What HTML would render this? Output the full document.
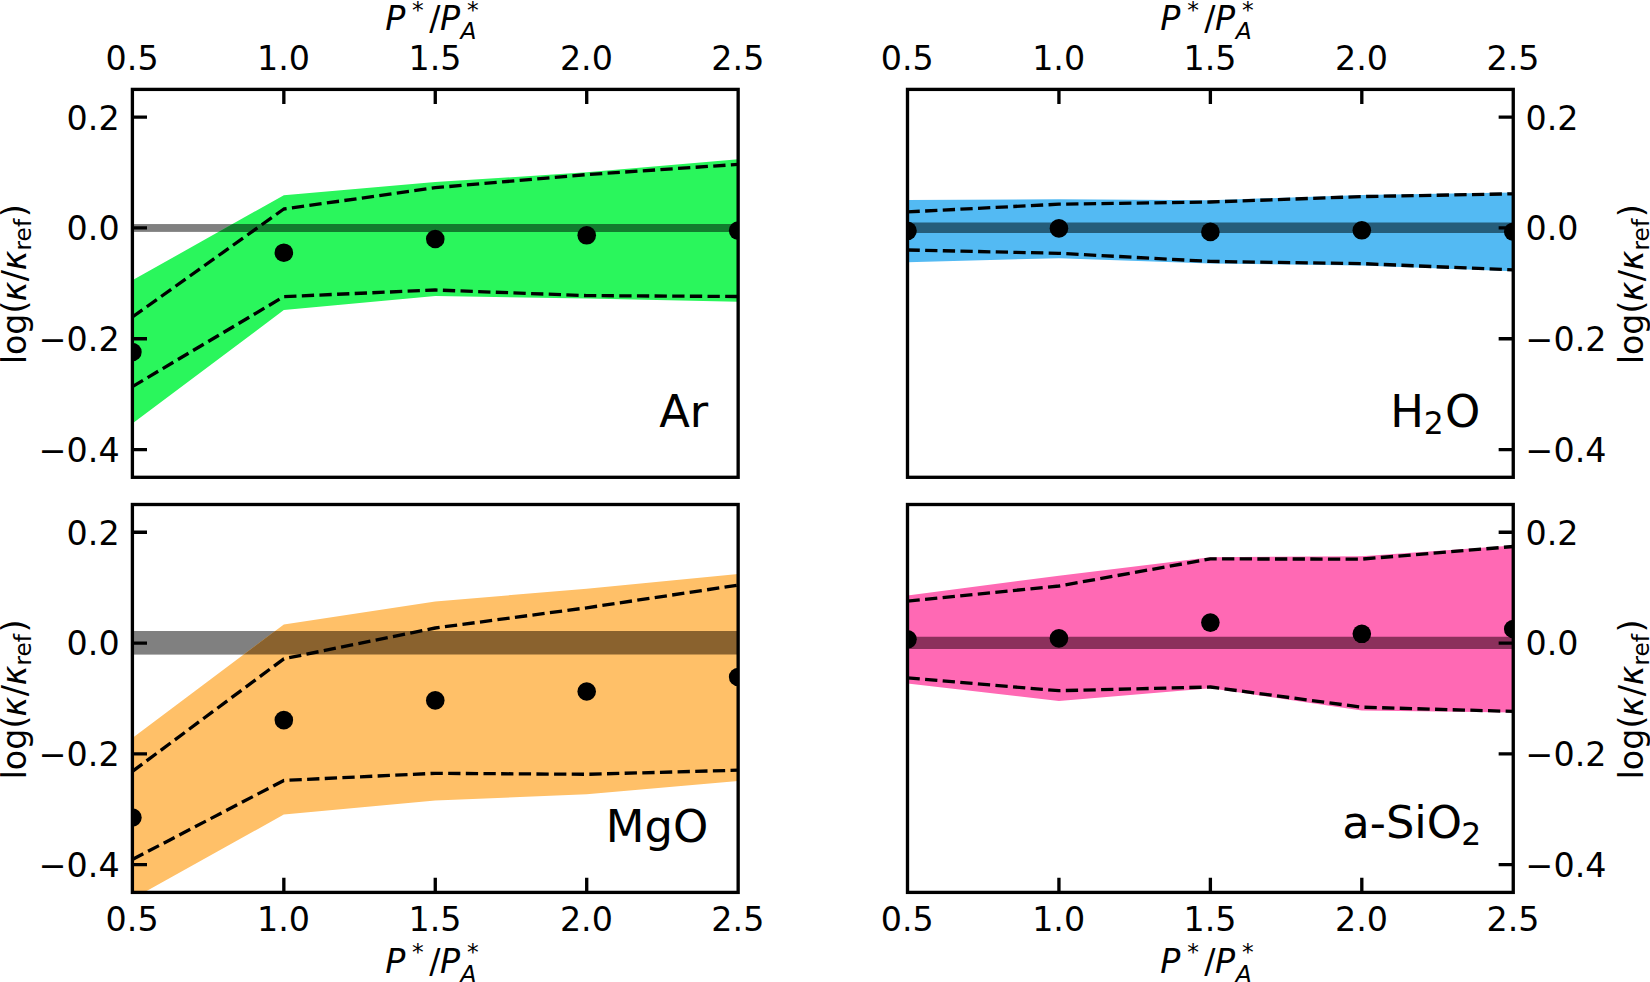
<!DOCTYPE html>
<html lang="en"><head><meta charset="utf-8"><title>log(κ/κref) vs P*/P*A</title>
<style>html,body{margin:0;padding:0;background:#fff}body{width:1650px;height:982px;overflow:hidden}svg{display:block}text{font-family:'DejaVu Sans','Liberation Sans',sans-serif;fill:#000}.it{font-style:oblique}</style></head><body>
<svg width="1650" height="982" viewBox="0 0 1650 982">
<rect width="1650" height="982" fill="#fff"/>
<clipPath id="cA"><rect x="132.4" y="89.4" width="605.75" height="387.9"/></clipPath>
<g clip-path="url(#cA)">
<clipPath id="bA"><rect x="132.4" y="224.05" width="605.75" height="7.85"/></clipPath>
<rect x="132.4" y="224.05" width="605.75" height="7.85" fill="#808080"/>
<polygon fill="#2af65c" points="132.4,280.3 283.84,195.2 435.27,182.1 586.71,172.3 738.15,159.3 738.15,301.8 586.71,298.6 435.27,296.1 283.84,310.1 132.4,423.4"/>
<polygon fill="#127c2e" points="132.4,280.3 283.84,195.2 435.27,182.1 586.71,172.3 738.15,159.3 738.15,301.8 586.71,298.6 435.27,296.1 283.84,310.1 132.4,423.4" clip-path="url(#bA)"/>
<polyline fill="none" stroke="#000" stroke-width="3.33" stroke-dasharray="12.3 5.35" stroke-linejoin="round" points="132.4,317 283.84,209 435.27,187.7 586.71,174.6 738.15,164.4"/>
<polyline fill="none" stroke="#000" stroke-width="3.33" stroke-dasharray="12.3 5.35" stroke-linejoin="round" points="132.4,386.6 283.84,296.6 435.27,290 586.71,295.6 738.15,296.5"/>
<circle cx="132.4" cy="352" r="9.3"/>
<circle cx="283.84" cy="252.7" r="9.3"/>
<circle cx="435.27" cy="239" r="9.3"/>
<circle cx="586.71" cy="235.3" r="9.3"/>
<circle cx="738.15" cy="230.6" r="9.3"/>
</g>
<path d="M283.84 89.4v14.6M435.27 89.4v14.6M586.71 89.4v14.6M132.4 117.11h14.6M132.4 227.94h14.6M132.4 338.76h14.6M132.4 449.59h14.6" stroke="#000" stroke-width="3.33" fill="none"/>
<rect x="132.4" y="89.4" width="605.75" height="387.9" fill="none" stroke="#000" stroke-width="3.33"/>
<text x="132.1" y="69.6" font-size="33.33" text-anchor="middle">0.5</text>
<text x="283.54" y="69.6" font-size="33.33" text-anchor="middle">1.0</text>
<text x="434.97" y="69.6" font-size="33.33" text-anchor="middle">1.5</text>
<text x="586.41" y="69.6" font-size="33.33" text-anchor="middle">2.0</text>
<text x="737.85" y="69.6" font-size="33.33" text-anchor="middle">2.5</text>
<text x="119.6" y="129.51" font-size="33.33" text-anchor="end">0.2</text>
<text x="119.6" y="240.34" font-size="33.33" text-anchor="end">0.0</text>
<text x="119.6" y="351.16" font-size="33.33" text-anchor="end">−0.2</text>
<text x="119.6" y="461.99" font-size="33.33" text-anchor="end">−0.4</text>
<text font-size="33.33"><tspan class="it" x="385.15" y="29.9">P</tspan><tspan font-size="23.33" x="412.1" y="17.5">*</tspan><tspan x="429.2" y="29.9">/</tspan><tspan class="it" x="439.9" y="29.9">P</tspan><tspan class="it" font-size="23.33" x="460.6" y="38.9">A</tspan><tspan font-size="23.33" x="467" y="17.5">*</tspan></text>
<g transform="translate(25.5 364.3) rotate(-90)"><text font-size="33.33"><tspan x="0" y="0">log(</tspan><tspan class="it" x="63" y="0">κ</tspan><tspan x="83.1" y="0">/</tspan><tspan class="it" x="94.1" y="0">κ</tspan><tspan font-size="23.33" x="113.8" y="5.6">ref</tspan><tspan x="147" y="0">)</tspan></text></g>
<clipPath id="cB"><rect x="907.5" y="89.4" width="605.75" height="387.9"/></clipPath>
<g clip-path="url(#cB)">
<clipPath id="bB"><rect x="907.5" y="222.5" width="605.75" height="10.4"/></clipPath>
<rect x="907.5" y="222.5" width="605.75" height="10.4" fill="#808080"/>
<polygon fill="#53baf3" points="907.5,199.9 1058.94,199.3 1210.38,200.2 1361.81,195 1513.25,192.6 1513.25,271.2 1361.81,265.4 1210.38,263.5 1058.94,258.2 907.5,262.2"/>
<polygon fill="#255d7a" points="907.5,199.9 1058.94,199.3 1210.38,200.2 1361.81,195 1513.25,192.6 1513.25,271.2 1361.81,265.4 1210.38,263.5 1058.94,258.2 907.5,262.2" clip-path="url(#bB)"/>
<polyline fill="none" stroke="#000" stroke-width="3.33" stroke-dasharray="12.3 5.35" stroke-linejoin="round" points="907.5,211.9 1058.94,204.2 1210.38,202 1361.81,196.6 1513.25,193.8"/>
<polyline fill="none" stroke="#000" stroke-width="3.33" stroke-dasharray="12.3 5.35" stroke-linejoin="round" points="907.5,250 1058.94,253.3 1210.38,261.4 1361.81,263.6 1513.25,269.9"/>
<circle cx="907.5" cy="230.8" r="9.3"/>
<circle cx="1058.94" cy="228.4" r="9.3"/>
<circle cx="1210.38" cy="231.9" r="9.3"/>
<circle cx="1361.81" cy="230.3" r="9.3"/>
<circle cx="1513.25" cy="231.7" r="9.3"/>
</g>
<path d="M1058.94 89.4v14.6M1210.38 89.4v14.6M1361.81 89.4v14.6M1513.25 117.11h-14.6M1513.25 227.94h-14.6M1513.25 338.76h-14.6M1513.25 449.59h-14.6" stroke="#000" stroke-width="3.33" fill="none"/>
<rect x="907.5" y="89.4" width="605.75" height="387.9" fill="none" stroke="#000" stroke-width="3.33"/>
<text x="907.2" y="69.6" font-size="33.33" text-anchor="middle">0.5</text>
<text x="1058.64" y="69.6" font-size="33.33" text-anchor="middle">1.0</text>
<text x="1210.08" y="69.6" font-size="33.33" text-anchor="middle">1.5</text>
<text x="1361.51" y="69.6" font-size="33.33" text-anchor="middle">2.0</text>
<text x="1512.95" y="69.6" font-size="33.33" text-anchor="middle">2.5</text>
<text x="1525.55" y="129.51" font-size="33.33">0.2</text>
<text x="1525.55" y="240.34" font-size="33.33">0.0</text>
<text x="1525.55" y="351.16" font-size="33.33">−0.2</text>
<text x="1525.55" y="461.99" font-size="33.33">−0.4</text>
<text font-size="33.33"><tspan class="it" x="1160.25" y="29.9">P</tspan><tspan font-size="23.33" x="1187.2" y="17.5">*</tspan><tspan x="1204.3" y="29.9">/</tspan><tspan class="it" x="1215" y="29.9">P</tspan><tspan class="it" font-size="23.33" x="1235.7" y="38.9">A</tspan><tspan font-size="23.33" x="1242.1" y="17.5">*</tspan></text>
<g transform="translate(1643 364.3) rotate(-90)"><text font-size="33.33"><tspan x="0" y="0">log(</tspan><tspan class="it" x="63" y="0">κ</tspan><tspan x="83.1" y="0">/</tspan><tspan class="it" x="94.1" y="0">κ</tspan><tspan font-size="23.33" x="113.8" y="5.6">ref</tspan><tspan x="147" y="0">)</tspan></text></g>
<clipPath id="cC"><rect x="132.4" y="504.5" width="605.75" height="387.9"/></clipPath>
<g clip-path="url(#cC)">
<clipPath id="bC"><rect x="132.4" y="631" width="605.75" height="23.6"/></clipPath>
<rect x="132.4" y="631" width="605.75" height="23.6" fill="#808080"/>
<polygon fill="#ffc068" points="132.4,738 283.84,624.4 435.27,601.4 586.71,588.8 738.15,574 738.15,781 586.71,794.2 435.27,800.6 283.84,814.5 132.4,898.9"/>
<polygon fill="#8a622e" points="132.4,738 283.84,624.4 435.27,601.4 586.71,588.8 738.15,574 738.15,781 586.71,794.2 435.27,800.6 283.84,814.5 132.4,898.9" clip-path="url(#bC)"/>
<polyline fill="none" stroke="#000" stroke-width="3.33" stroke-dasharray="12.3 5.35" stroke-linejoin="round" points="132.4,771.4 283.84,658.8 435.27,628 586.71,607.8 738.15,585.1"/>
<polyline fill="none" stroke="#000" stroke-width="3.33" stroke-dasharray="12.3 5.35" stroke-linejoin="round" points="132.4,859.5 283.84,780.4 435.27,773.3 586.71,774.3 738.15,770.2"/>
<circle cx="132.4" cy="817.5" r="9.3"/>
<circle cx="283.84" cy="720.1" r="9.3"/>
<circle cx="435.27" cy="700.4" r="9.3"/>
<circle cx="586.71" cy="691.5" r="9.3"/>
<circle cx="738.15" cy="677" r="9.3"/>
</g>
<path d="M283.84 892.4v-14.6M435.27 892.4v-14.6M586.71 892.4v-14.6M132.4 532.21h14.6M132.4 643.04h14.6M132.4 753.86h14.6M132.4 864.69h14.6" stroke="#000" stroke-width="3.33" fill="none"/>
<rect x="132.4" y="504.5" width="605.75" height="387.9" fill="none" stroke="#000" stroke-width="3.33"/>
<text x="132.1" y="930.7" font-size="33.33" text-anchor="middle">0.5</text>
<text x="283.54" y="930.7" font-size="33.33" text-anchor="middle">1.0</text>
<text x="434.97" y="930.7" font-size="33.33" text-anchor="middle">1.5</text>
<text x="586.41" y="930.7" font-size="33.33" text-anchor="middle">2.0</text>
<text x="737.85" y="930.7" font-size="33.33" text-anchor="middle">2.5</text>
<text x="119.6" y="544.61" font-size="33.33" text-anchor="end">0.2</text>
<text x="119.6" y="655.44" font-size="33.33" text-anchor="end">0.0</text>
<text x="119.6" y="766.26" font-size="33.33" text-anchor="end">−0.2</text>
<text x="119.6" y="877.09" font-size="33.33" text-anchor="end">−0.4</text>
<text font-size="33.33"><tspan class="it" x="385.15" y="972.8">P</tspan><tspan font-size="23.33" x="412.1" y="960.4">*</tspan><tspan x="429.2" y="972.8">/</tspan><tspan class="it" x="439.9" y="972.8">P</tspan><tspan class="it" font-size="23.33" x="460.6" y="981.8">A</tspan><tspan font-size="23.33" x="467" y="960.4">*</tspan></text>
<g transform="translate(25.5 779.4) rotate(-90)"><text font-size="33.33"><tspan x="0" y="0">log(</tspan><tspan class="it" x="63" y="0">κ</tspan><tspan x="83.1" y="0">/</tspan><tspan class="it" x="94.1" y="0">κ</tspan><tspan font-size="23.33" x="113.8" y="5.6">ref</tspan><tspan x="147" y="0">)</tspan></text></g>
<clipPath id="cD"><rect x="907.5" y="504.5" width="605.75" height="387.9"/></clipPath>
<g clip-path="url(#cD)">
<clipPath id="bD"><rect x="907.5" y="636.7" width="605.75" height="12.3"/></clipPath>
<rect x="907.5" y="636.7" width="605.75" height="12.3" fill="#808080"/>
<polygon fill="#ff69b4" points="907.5,595.4 1058.94,575.7 1210.38,557.2 1361.81,556.3 1513.25,545.5 1513.25,712.5 1361.81,710.5 1210.38,688.3 1058.94,700.9 907.5,683.6"/>
<polygon fill="#8c305c" points="907.5,595.4 1058.94,575.7 1210.38,557.2 1361.81,556.3 1513.25,545.5 1513.25,712.5 1361.81,710.5 1210.38,688.3 1058.94,700.9 907.5,683.6" clip-path="url(#bD)"/>
<polyline fill="none" stroke="#000" stroke-width="3.33" stroke-dasharray="12.3 5.35" stroke-linejoin="round" points="907.5,601.1 1058.94,586 1210.38,558.9 1361.81,559.1 1513.25,546.5"/>
<polyline fill="none" stroke="#000" stroke-width="3.33" stroke-dasharray="12.3 5.35" stroke-linejoin="round" points="907.5,677.9 1058.94,690.7 1210.38,687 1361.81,707.2 1513.25,711.4"/>
<circle cx="907.5" cy="639.3" r="9.3"/>
<circle cx="1058.94" cy="638.4" r="9.3"/>
<circle cx="1210.38" cy="622.6" r="9.3"/>
<circle cx="1361.81" cy="633.8" r="9.3"/>
<circle cx="1513.25" cy="629" r="9.3"/>
</g>
<path d="M1058.94 892.4v-14.6M1210.38 892.4v-14.6M1361.81 892.4v-14.6M1513.25 532.21h-14.6M1513.25 643.04h-14.6M1513.25 753.86h-14.6M1513.25 864.69h-14.6" stroke="#000" stroke-width="3.33" fill="none"/>
<rect x="907.5" y="504.5" width="605.75" height="387.9" fill="none" stroke="#000" stroke-width="3.33"/>
<text x="907.2" y="930.7" font-size="33.33" text-anchor="middle">0.5</text>
<text x="1058.64" y="930.7" font-size="33.33" text-anchor="middle">1.0</text>
<text x="1210.08" y="930.7" font-size="33.33" text-anchor="middle">1.5</text>
<text x="1361.51" y="930.7" font-size="33.33" text-anchor="middle">2.0</text>
<text x="1512.95" y="930.7" font-size="33.33" text-anchor="middle">2.5</text>
<text x="1525.55" y="544.61" font-size="33.33">0.2</text>
<text x="1525.55" y="655.44" font-size="33.33">0.0</text>
<text x="1525.55" y="766.26" font-size="33.33">−0.2</text>
<text x="1525.55" y="877.09" font-size="33.33">−0.4</text>
<text font-size="33.33"><tspan class="it" x="1160.25" y="972.8">P</tspan><tspan font-size="23.33" x="1187.2" y="960.4">*</tspan><tspan x="1204.3" y="972.8">/</tspan><tspan class="it" x="1215" y="972.8">P</tspan><tspan class="it" font-size="23.33" x="1235.7" y="981.8">A</tspan><tspan font-size="23.33" x="1242.1" y="960.4">*</tspan></text>
<g transform="translate(1643 779.4) rotate(-90)"><text font-size="33.33"><tspan x="0" y="0">log(</tspan><tspan class="it" x="63" y="0">κ</tspan><tspan x="83.1" y="0">/</tspan><tspan class="it" x="94.1" y="0">κ</tspan><tspan font-size="23.33" x="113.8" y="5.6">ref</tspan><tspan x="147" y="0">)</tspan></text></g>
<text x="708.2" y="426.9" font-size="44.8" text-anchor="end">Ar</text>
<text x="708.2" y="841.8" font-size="44.8" text-anchor="end">MgO</text>
<text font-size="44.8"><tspan x="1390.3" y="426.9">H</tspan><tspan font-size="31.36" x="1423.7" y="434.2">2</tspan><tspan x="1445" y="426.9">O</tspan></text>
<text font-size="44.8"><tspan x="1342.3" y="838.3">a-SiO</tspan><tspan font-size="31.36" x="1461.2" y="845.4">2</tspan></text>
</svg></body></html>
